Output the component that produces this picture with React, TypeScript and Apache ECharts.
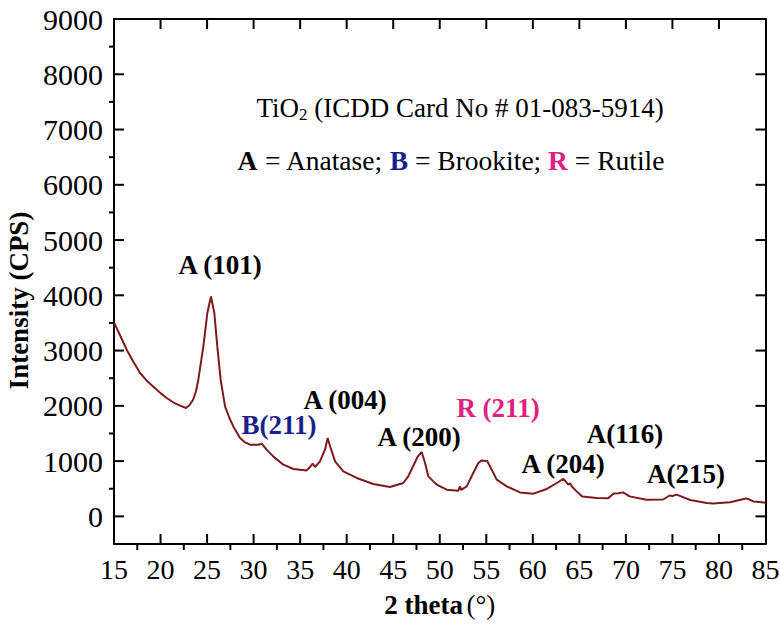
import React, { useEffect, useRef } from "react";
import * as echarts from "echarts";

const thetaValues = [
  15.0, 15.7, 16.36, 17.0, 17.8, 18.5, 19.2, 20.0, 20.66, 21.4, 22.1, 22.74, 23.1, 23.5, 23.8, 24.06,
  24.6, 25.03, 25.42, 25.78, 26.1, 26.46, 26.93, 27.4, 27.82, 28.54, 29.0, 29.6, 30.5, 30.87, 31.4,
  32.1, 33.2, 34.27, 35.7, 36.06, 36.35, 36.6, 37.13, 37.67, 37.96, 38.28, 38.75, 39.64, 41.08,
  42.86, 44.65, 46.08, 46.6, 47.2, 47.6, 48.06, 48.42, 48.77, 49.67, 50.75, 52.0, 52.18, 52.3,
  52.9, 53.6, 54.14, 54.5, 55.1, 55.58, 56.12, 57.2, 58.62, 60.05, 61.5, 62.57, 63.28, 63.81,
  64.0, 64.2, 64.71, 65.3, 66.86, 68.1, 68.7, 69.2, 69.7, 70.4, 72.2, 74.0, 74.7, 75.0, 75.46,
  76.9, 78.7, 79.4, 80.8, 81.2, 82.9, 83.4, 83.7, 84.3, 85.0,
];
const intensityValues = [
  3510, 3260, 3016, 2820, 2594, 2460, 2352, 2230, 2142, 2060, 2003, 1961, 2010, 2111, 2260, 2473,
  3076, 3680, 3980, 3680, 3076, 2473, 1990, 1780, 1628, 1420, 1350, 1297, 1297, 1315, 1207,
  1086, 935, 857, 832, 894, 953, 894, 995, 1207, 1418, 1237, 995, 814, 695,
  586, 532, 604, 720, 930, 1070, 1165, 966, 724, 574, 483, 465, 543, 480,
  543, 785, 966, 1013, 1002, 845, 664, 543, 434, 411, 496, 604, 677, 574,
  600, 540, 452, 360, 333, 330, 415, 420, 434, 362, 300, 305, 378, 370, 393,
  296, 242, 232, 250, 255, 325, 295, 271, 262, 248,
];
const xMajorTicks = [20, 25, 30, 35, 40, 45, 50, 55, 60, 65, 70, 75, 80];
const xMinorTicks = [17.5, 22.5, 27.5, 32.5, 37.5, 42.5, 47.5, 52.5, 57.5, 62.5, 67.5, 72.5, 77.5, 82.5];
const yMajorTicks = [0, 1000, 2000, 3000, 4000, 5000, 6000, 7000, 8000];
const yMinorTicks = [500, 1500, 2500, 3500, 4500, 5500, 6500, 7500, 8500];

const X_MIN = 15;
const X_MAX = 85;
const Y_MIN = -500;
const Y_MAX = 9000;

const peakLabels = [
  { text: "A (101)", color: "#000", x: 220, y: 265 },
  { text: "B(211)", color: "#1b1f8a", x: 279, y: 425 },
  { text: "A (004)", color: "#000", x: 345, y: 400 },
  { text: "A (200)", color: "#000", x: 419, y: 437 },
  { text: "R (211)", color: "#e0207f", x: 498, y: 408 },
  { text: "A (204)", color: "#000", x: 563, y: 464 },
  { text: "A(116)", color: "#000", x: 625, y: 434 },
  { text: "A(215)", color: "#000", x: 686, y: 474 },
];

const FONT = '"Liberation Serif", "Times New Roman", serif';

export default function App() {
  const ref = useRef<HTMLDivElement>(null);
  useEffect(() => {
    if (!ref.current) return;
    const chart = echarts.init(ref.current, null, { renderer: "svg" });
    const data = thetaValues.map((t, i) => [t, intensityValues[i]]);
    const frameLine = { show: true, onZero: false, lineStyle: { color: "#000", width: 2 } };
    chart.setOption({
      animation: false,
      backgroundColor: "#fff",
      grid: { left: 114, top: 19, right: 14.5, bottom: 87, containLabel: false, outerBoundsMode: "none" },
      xAxis: [
        {
          type: "value", min: X_MIN, max: X_MAX, interval: 5, position: "bottom",
          axisLine: frameLine,
          axisTick: { show: false },
          axisLabel: { show: true, margin: 11, fontSize: 28, color: "#000", fontFamily: FONT, formatter: (v: number) => String(v) },
          splitLine: { show: false },
          name: "{b|2 theta} {n|(°)}", nameLocation: "middle", nameGap: 47,
          nameTextStyle: {
            rich: {
              b: { fontSize: 27, fontWeight: "bold", fontFamily: FONT, color: "#000" },
              n: { fontSize: 27, fontFamily: FONT, color: "#000" },
            },
          },
        },
        {
          type: "value", min: X_MIN, max: X_MAX, position: "top",
          axisLine: frameLine, axisTick: { show: false }, axisLabel: { show: false }, splitLine: { show: false },
        },
      ],
      yAxis: [
        {
          type: "value", min: Y_MIN, max: Y_MAX, interval: 500, position: "left",
          axisLine: frameLine,
          axisTick: { show: false },
          axisLabel: {
            show: true, margin: 11, fontSize: 30, color: "#000", fontFamily: FONT, showMinLabel: true, showMaxLabel: true,
            formatter: (v: number) => (v >= 0 && v % 1000 === 0 ? String(v) : ""),
          },
          splitLine: { show: false },
          name: "Intensity (CPS)", nameLocation: "middle", nameGap: 82,
          nameTextStyle: { fontSize: 27, fontWeight: "bold", fontFamily: FONT, color: "#000", padding: [0, 0, 0, -38] },
        },
        {
          type: "value", min: Y_MIN, max: Y_MAX, position: "right",
          axisLine: frameLine, axisTick: { show: false }, axisLabel: { show: false }, splitLine: { show: false },
        },
      ],
      series: [
        {
          type: "line", xAxisIndex: 0, yAxisIndex: 0, data, showSymbol: false, symbol: "none",
          lineStyle: { color: "#7d1a1e", width: 2 },
        },
      ],
    });

    // tick marks: positions come from the chart's own scales
    const toPx = (v: number[]) => chart.convertToPixel({ xAxisIndex: 0, yAxisIndex: 0 }, v) as number[];
    const tickRects: any[] = [];
    const addTicks = (points: number[][], dx: number, dy: number) => {
      points.forEach((pt) => {
        const p = toPx(pt);
        const x = dx === 0 ? p[0] - 1 : Math.min(p[0], p[0] + dx);
        const y = dy === 0 ? p[1] - 1 : Math.min(p[1], p[1] + dy);
        tickRects.push({
          type: "rect", z: 100,
          shape: { x, y, width: dx === 0 ? 2 : Math.abs(dx), height: dy === 0 ? 2 : Math.abs(dy) },
          style: { fill: "#000" },
        });
      });
    };
    addTicks(xMajorTicks.map((v) => [v, Y_MIN]), 0, -10);
    addTicks(xMinorTicks.map((v) => [v, Y_MIN]), 0, 6);
    addTicks(xMajorTicks.map((v) => [v, Y_MAX]), 0, 10);
    addTicks(yMajorTicks.map((v) => [X_MIN, v]), 10, 0);
    addTicks(yMinorTicks.map((v) => [X_MIN, v]), -5, 0);
    addTicks(yMajorTicks.map((v) => [X_MAX, v]), -10, 0);

    chart.setOption({
      graphic: [
        ...tickRects,
        {
          type: "text", x: 460, y: 108,
          style: {
            text: "{m|TiO}{s|2}{m| (ICDD Card No # 01-083-5914)}",
            align: "center", verticalAlign: "middle",
            rich: {
              m: { fontSize: 27, fontFamily: FONT, fill: "#000", lineHeight: 30 },
              s: { fontSize: 17, fontFamily: FONT, fill: "#000", lineHeight: 14, verticalAlign: "bottom" },
            },
          },
        },
        {
          type: "text", x: 451, y: 160,
          style: {
            text: "{a|A}{n| = Anatase; }{b|B}{n| = Brookite; }{r|R}{n| = Rutile}",
            align: "center", verticalAlign: "middle",
            rich: {
              n: { fontSize: 27.5, fontFamily: FONT, fill: "#000" },
              a: { fontSize: 27.5, fontFamily: FONT, fill: "#000", fontWeight: "bold" },
              b: { fontSize: 27.5, fontFamily: FONT, fill: "#1b1f8a", fontWeight: "bold" },
              r: { fontSize: 27.5, fontFamily: FONT, fill: "#e0207f", fontWeight: "bold" },
            },
          },
        },
        ...peakLabels.map((p) => ({
          type: "text", x: p.x, y: p.y,
          style: {
            text: p.text, fill: p.color, fontSize: 27, fontWeight: "bold", fontFamily: FONT,
            align: "center", verticalAlign: "middle",
          },
        })),
      ],
    });
    return () => chart.dispose();
  }, []);
  return <div ref={ref} style={{ position: "fixed", left: 0, top: 0, width: 780, height: 631 }} />;
}
